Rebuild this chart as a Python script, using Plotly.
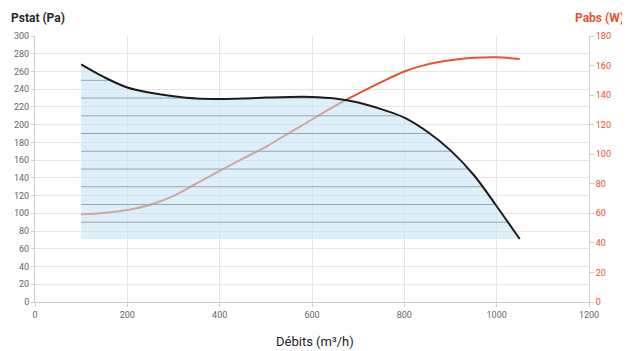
import numpy as np
import plotly.graph_objects as go

# ---- data ----
flow = [100, 150, 200, 250, 300, 350, 400, 450, 500, 550, 600, 650, 700,
        750, 800, 850, 900, 950, 1000, 1050]
pstat = [268, 253.5, 242, 236, 232, 229.5, 229, 229.5, 230.5, 231.3, 231.3,
         229.5, 225, 217.5, 208, 192, 171, 143.5, 108, 71]
pabs = [59.3, 60.3, 62.3, 65.8, 71.8, 80.2, 88.7, 97, 105, 114.3, 123.5,
        132.7, 141, 148.8, 156, 160.8, 163.6, 165.2, 165.6, 164.5]
band_levels = [90, 110, 130, 150, 170, 190, 210, 230, 250]

x_title = "Débits (m³/h)"
y_title = "Pstat (Pa)"
y2_title = "Pabs (W)"

RED = "#e8522c"
GRID = "#ece3e3"
AXIS = "#d8caca"
FONT = "Roboto"

# horizontal band lines inside the shaded area
dense_x = np.linspace(flow[0], flow[-1], 1901)
dense_y = np.interp(dense_x, flow, pstat)
lx, ly = [], []
for lev in band_levels:
    lx += list(dense_x) + [None]
    ly += [lev if v >= lev else None for v in dense_y] + [None]

fig = go.Figure()
# invisible anchor trace on the main (left) axis
fig.add_trace(go.Scatter(x=flow, y=pstat, yaxis="y", mode="lines",
                         line=dict(width=0), opacity=0, hoverinfo="skip"))
fig.add_trace(go.Scatter(x=flow, y=pabs, yaxis="y2", mode="lines",
                         line=dict(color=RED, width=2, shape="spline"),
                         hoverinfo="skip"))
fig.add_trace(go.Scatter(x=flow, y=[min(pstat)] * len(flow), yaxis="y3",
                         mode="lines", line=dict(width=0), hoverinfo="skip"))
fig.add_trace(go.Scatter(x=flow, y=pstat, yaxis="y3", mode="lines",
                         line=dict(width=0, shape="spline"), fill="tonexty",
                         fillcolor="rgba(195,228,244,0.57)", hoverinfo="skip"))
fig.add_trace(go.Scatter(x=lx, y=ly, yaxis="y3", mode="lines",
                         line=dict(color="#9ea3a8", width=1), connectgaps=False,
                         hoverinfo="skip"))
fig.add_trace(go.Scatter(x=flow, y=pstat, yaxis="y3", mode="lines",
                         line=dict(color="#1c1c1c", width=2, shape="spline"),
                         hoverinfo="skip"))

# the page body has an 8px margin: the figure is sized to fit the window
fig.update_layout(
    width=622, height=343,
    margin=dict(l=27, r=41, t=28, b=49, autoexpand=False),
    plot_bgcolor="white", paper_bgcolor="white",
    showlegend=False,
    font=dict(family=FONT, color="#555"),
    xaxis=dict(range=[0, 1200], dtick=200, showline=True, linecolor=AXIS,
               gridcolor=GRID, zeroline=False, ticks="outside", ticklen=4,
               tickcolor=AXIS, tickfont=dict(size=9, color="#666"),
               automargin=False),
    yaxis=dict(range=[0, 300], dtick=20, showline=True, linecolor=AXIS,
               gridcolor=GRID, zeroline=False, ticks="outside", ticklen=3,
               tickcolor=AXIS, tickfont=dict(size=9, color="#666"),
               automargin=False),
    yaxis2=dict(range=[0, 180], dtick=20, overlaying="y", side="right",
                showgrid=False, zeroline=False, showline=True,
                linecolor="#d0d0d0", ticks="outside", ticklen=4,
                tickcolor="#d0d0d0", tickfont=dict(size=9, color=RED),
                automargin=False),
    yaxis3=dict(range=[0, 300], overlaying="y", visible=False,
                automargin=False),
    annotations=[
        dict(text=y_title, xref="paper", yref="paper", x=-0.047, y=1.068,
             xanchor="left", yanchor="middle", showarrow=False,
             font=dict(size=12, color="#2a2a2a", family=FONT, weight="bold")),
        dict(text=y2_title, xref="paper", yref="paper", x=1.066, y=1.068,
             xanchor="right", yanchor="middle", showarrow=False,
             font=dict(size=12, color=RED, family=FONT, weight="bold")),
        dict(text=x_title, xref="paper", yref="paper", x=0.505, y=-0.147,
             xanchor="center", yanchor="middle", showarrow=False,
             font=dict(size=13, color="#222", family=FONT)),
    ],
)

fig.write_html("out.html")
